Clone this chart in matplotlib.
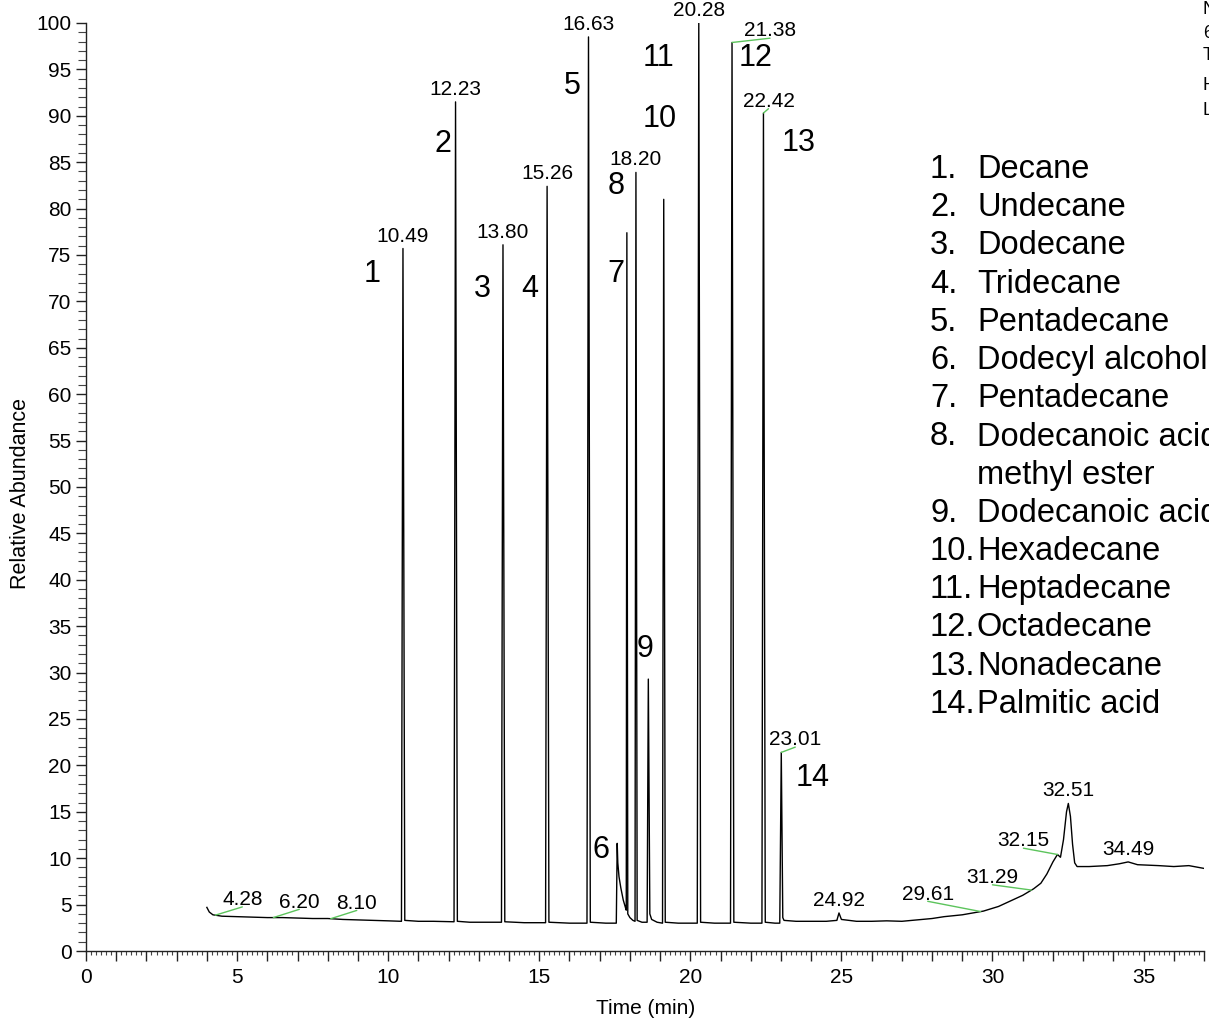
import matplotlib
matplotlib.use("Agg")
import numpy as np
import matplotlib.pyplot as plt
from matplotlib.ticker import MultipleLocator, FuncFormatter

plt.rcParams["font.family"] = ["Liberation Sans", "DejaVu Sans"]

# chromatogram trace (time in min, relative abundance)
trace_t = [4.00, 4.08, 4.20, 4.50, 5.00, 5.50, 6.00, 6.50, 7.00, 7.50, 8.00, 8.50,
           9.00, 9.50, 10.00, 10.44, 10.49, 10.55, 11.00, 11.50, 12.18, 12.23, 12.29,
           12.70, 13.20, 13.75, 13.80, 13.86, 14.50, 15.21, 15.26, 15.32, 16.00,
           16.58, 16.63, 16.69, 17.20, 17.55, 17.58, 17.60, 17.64, 17.70, 17.78,
           17.86, 17.88, 17.90, 17.93, 18.00, 18.10, 18.17, 18.20, 18.24, 18.40,
           18.57, 18.61, 18.66, 18.72, 18.90, 19.08, 19.12, 19.17, 19.60, 20.23,
           20.28, 20.34, 20.80, 21.33, 21.38, 21.44, 22.00, 22.37, 22.42, 22.48,
           22.80, 22.96, 23.01, 23.06, 23.10, 23.50, 24.00, 24.50, 24.85, 24.92,
           25.00, 25.50, 26.00, 26.50, 27.00, 27.50, 28.00, 28.40, 29.00, 29.70,
           30.20, 30.60, 31.00, 31.36, 31.60, 31.80, 32.00, 32.15, 32.25, 32.35,
           32.45, 32.51, 32.58, 32.65, 32.72, 32.80, 33.20, 33.80, 34.20, 34.49,
           34.80, 35.50, 36.00, 36.50, 37.00]
trace_v = [4.7, 4.2, 3.9, 3.75, 3.7, 3.65, 3.6, 3.6, 3.55, 3.5, 3.5, 3.4,
           3.35, 3.3, 3.25, 3.2, 75.7, 3.3, 3.2, 3.2, 3.15, 91.5, 3.2,
           3.1, 3.1, 3.1, 76.1, 3.15, 3.05, 3.05, 82.4, 3.1, 3.0,
           3.0, 98.5, 3.1, 3.0, 3.0, 11.6, 9.5, 8.0, 6.8, 5.5,
           4.6, 4.4, 77.4, 4.0, 3.6, 3.3, 3.2, 83.9, 3.3, 3.1,
           3.1, 29.3, 4.0, 3.4, 3.1, 3.0, 81.0, 3.1, 3.0, 3.0,
           100.0, 3.1, 3.0, 3.0, 97.9, 3.1, 3.0, 3.0, 90.3, 3.1,
           3.0, 3.0, 21.4, 3.6, 3.3, 3.2, 3.2, 3.2, 3.3, 4.1,
           3.4, 3.2, 3.2, 3.25, 3.2, 3.35, 3.5, 3.7, 3.9, 4.3,
           4.8, 5.4, 6.0, 6.7, 7.3, 8.3, 9.6, 10.4, 10.1, 12.0,
           15.0, 15.9, 14.5, 11.5, 9.5, 9.1, 9.1, 9.2, 9.4, 9.6,
           9.3, 9.2, 9.1, 9.2, 8.9]

# retention times printed on the chart
rt_marks = [4.28, 6.20, 8.10, 10.49, 12.23, 13.80, 15.26, 16.63, 18.20, 20.28,
            21.38, 22.42, 23.01, 24.92, 29.61, 31.29, 32.15, 32.51, 34.49]

# compound numbers and names
comp_nums = list(range(1, 15))
comp_names = ["Decane", "Undecane", "Dodecane", "Tridecane", "Pentadecane",
              "Dodecyl alcohol", "Pentadecane", "Dodecanoic acid,\nmethyl ester",
              "Dodecanoic acid", "Hexadecane", "Heptadecane", "Octadecane",
              "Nonadecane", "Palmitic acid"]

# where the big compound numbers sit (data coords)
num_pos = [(9.47, 72.1), (11.82, 86.1), (13.11, 70.5), (14.70, 70.5), (16.09, 92.3),
           (17.05, 10.0), (17.55, 72.1), (17.55, 81.6), (18.51, 31.7), (19.00, 88.8),
           (18.94, 95.4), (22.15, 95.4), (23.58, 86.2), (24.04, 17.8)]

# labels that are shifted away from their peak (pixels) and get a green leader
shifted = {4.28: (27, 10), 6.20: (26, 10), 8.10: (26, 10), 21.38: (38, 6),
           22.42: (5, 6), 23.01: (14, 7), 29.61: (-53, 12), 31.29: (-39, 7),
           32.15: (-34, 8)}

W, H = 1209, 1022
fig = plt.figure(figsize=(W / 100, H / 100), dpi=100)
ax = fig.add_axes([86 / W, 1 - 951 / H, (1204 - 86) / W, (951 - 23) / H])

ax.plot(trace_t, trace_v, color="black", lw=1.0)

ax.set_xlim(0, 37)
ax.set_ylim(0, 100)
for s in ["top", "right"]:
    ax.spines[s].set_visible(False)
for s in ["left", "bottom"]:
    ax.spines[s].set_linewidth(1.0)
    ax.spines[s].set_color("#222222")

ax.xaxis.set_major_locator(MultipleLocator(1))
ax.xaxis.set_minor_locator(MultipleLocator(1 / 6))
ax.xaxis.set_major_formatter(FuncFormatter(lambda v, p: f"{v:.0f}" if round(v) % 5 == 0 else ""))
ax.yaxis.set_major_locator(MultipleLocator(5))
ax.yaxis.set_minor_locator(MultipleLocator(1))
ax.tick_params(axis="x", which="major", length=7.5, width=1, pad=5, labelsize=15, color="#222222")
ax.tick_params(axis="x", which="minor", length=3, width=0.8, color="#444444")
ax.tick_params(axis="y", which="major", length=7.5, width=1, pad=3, labelsize=15, color="#222222")
ax.tick_params(axis="y", which="minor", length=6, width=0.8, color="#444444")

# retention time labels
for rt in rt_marks:
    yv = np.interp(rt, trace_t, trace_v)
    if rt in shifted:
        dx, dy = shifted[rt]
        ax.annotate(f"{rt:.2f}", xy=(rt, yv), xytext=(dx, dy), textcoords="offset pixels",
                    ha="center", va="baseline", fontsize=15, annotation_clip=False,
                    arrowprops=dict(arrowstyle="-", color="#5cc45c", lw=1.0, patchA=None,
                                    shrinkA=0, shrinkB=0, relpos=(0.5, 0.12)))
    else:
        ax.annotate(f"{rt:.2f}", xy=(rt, yv), xytext=(0, 7), textcoords="offset pixels",
                    ha="center", va="baseline", fontsize=15, annotation_clip=False)

# compound numbers on the peaks
for n, (x, y) in zip(comp_nums, num_pos):
    ax.text(x, y, str(n), ha="center", va="baseline", fontsize=22, clip_on=False)

# compound list on the right
line = 0
for n, name in zip(comp_nums, comp_names):
    for k, part in enumerate(name.split("\n")):
        yb = 1 - (178 + 38.2 * line) / H
        if k == 0:
            fig.text(930 / W, yb, f"{n}.", ha="left", va="baseline", fontsize=23.5)
        fig.text(977 / W, yb, part, ha="left", va="baseline", fontsize=23.5)
        line += 1

# axis titles
fig.text(21 / W, 1 - 493 / H, "Relative Abundance", rotation=90, ha="center",
         va="center", fontsize=15.5)
fig.text(646 / W, 1 - 1014 / H, "Time (min)", ha="center", va="baseline", fontsize=15)

# header text cut by the right edge
for txt, yc in [("NL:", 9), ("6.21E8", 33), ("TIC  MS", 55), ("HC_1", 85), ("L", 110)]:
    fig.text(1203 / W, 1 - yc / H, txt, ha="left", va="center", fontsize=13)

fig.savefig("out.png", dpi=100)
